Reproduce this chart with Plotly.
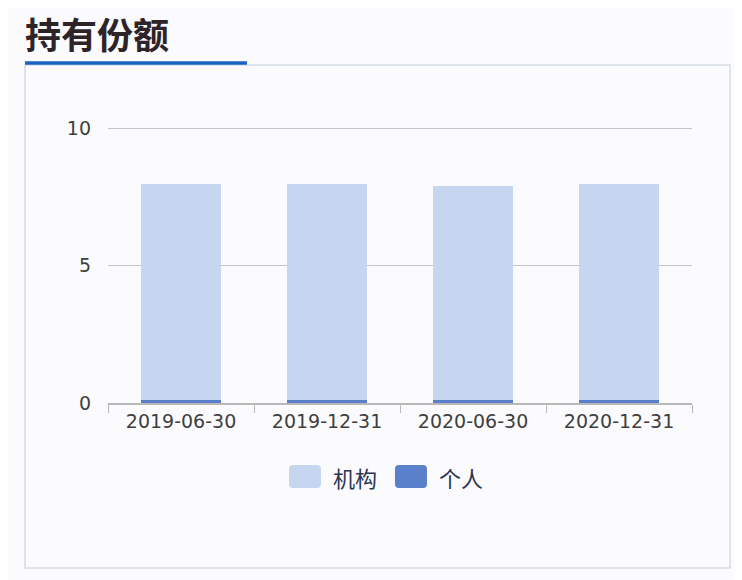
import plotly.graph_objs as go

dates = ['2019-06-30', '2019-12-31', '2020-06-30', '2020-12-31']
jigou = [7.86, 7.86, 7.80, 7.86]
geren = [0.10, 0.10, 0.10, 0.10]
series_names = ['机构', '个人']

c_jigou = '#c6d6f1'
c_geren = '#5a80cc'

fig = go.Figure()
fig.add_trace(go.Bar(x=dates, y=geren, name=series_names[1], marker_color=c_geren,
                     marker_line_width=0))
fig.add_trace(go.Bar(x=dates, y=jigou, name=series_names[0], marker_color=c_jigou,
                     marker_line_width=0))


def rounded_box(x0, x1, y0, y1, rx=0.0068, ry=0.014):
    return (f'M{x0+rx},{y0} L{x1-rx},{y0} Q{x1},{y0} {x1},{y0+ry} '
            f'L{x1},{y1-ry} Q{x1},{y1} {x1-rx},{y1} L{x0+rx},{y1} '
            f'Q{x0},{y1} {x0},{y1-ry} L{x0},{y0+ry} Q{x0},{y0} {x0+rx},{y0} Z')


# legend drawn by hand: big rounded swatches like the original
legend_shapes = []
legend_notes = []
for (sx0, tx), nm, col in zip([(0.3099, 0.3818), (0.4914, 0.5634)], series_names,
                              [c_jigou, c_geren]):
    legend_shapes.append(dict(type='path', xref='paper', yref='paper',
                              path=rounded_box(sx0, sx0 + 0.0548, -0.3004, -0.2191),
                              fillcolor=col, line=dict(width=0)))
    legend_notes.append(dict(text=nm, xref='paper', yref='paper', x=tx, y=-0.262,
                             xanchor='left', yanchor='middle', showarrow=False,
                             font=dict(family='Noto Sans CJK SC', size=22,
                                       color='#2a3550')))

fig.update_layout(
    barmode='stack',
    bargap=0.45,
    showlegend=False,
    width=742, height=580,
    paper_bgcolor='#fbfbfd',
    plot_bgcolor='#fbfbfd',
    margin=dict(l=100, r=58, t=112, b=185),
    font=dict(family='Noto Sans CJK SC', size=17, color='#333333'),
    xaxis=dict(type='category', showline=True, linecolor='#b8b8b8', linewidth=1.5,
               ticks='outside', tickson='boundaries', ticklen=8, tickcolor='#b8b8b8',
               tickfont=dict(family='DejaVu Sans', size=19, color='#3f3f3f'),
               showgrid=False),
    yaxis=dict(range=[0, 10.3], tickvals=[0, 5, 10], showgrid=True,
               gridcolor='#c4c4c8', gridwidth=1.2, zeroline=False,
               ticklabelstandoff=16,
               tickfont=dict(family='DejaVu Sans', size=19, color='#3f3f3f')),
    shapes=[
        dict(type='rect', xref='paper', yref='paper', x0=-0.1421, x1=1.0651,
             y0=-0.583, y1=1.194, line=dict(color='#d6dbe3', width=1.5),
             fillcolor='rgba(0,0,0,0)', layer='below'),
        dict(type='line', xref='paper', yref='paper', x0=-0.1421, x1=0.238,
             y0=1.2014, y1=1.2014, line=dict(color='#1a63c0', width=3.5)),
    ] + legend_shapes,
    annotations=[
        dict(text='<b>持有份额</b>', xref='paper', yref='paper', x=-0.1455, y=1.21,
             xanchor='left', yanchor='bottom', showarrow=False,
             font=dict(family='Noto Sans CJK SC', size=36, color='#2d2428')),
    ] + legend_notes,
)

fig.write_html("out.html")
